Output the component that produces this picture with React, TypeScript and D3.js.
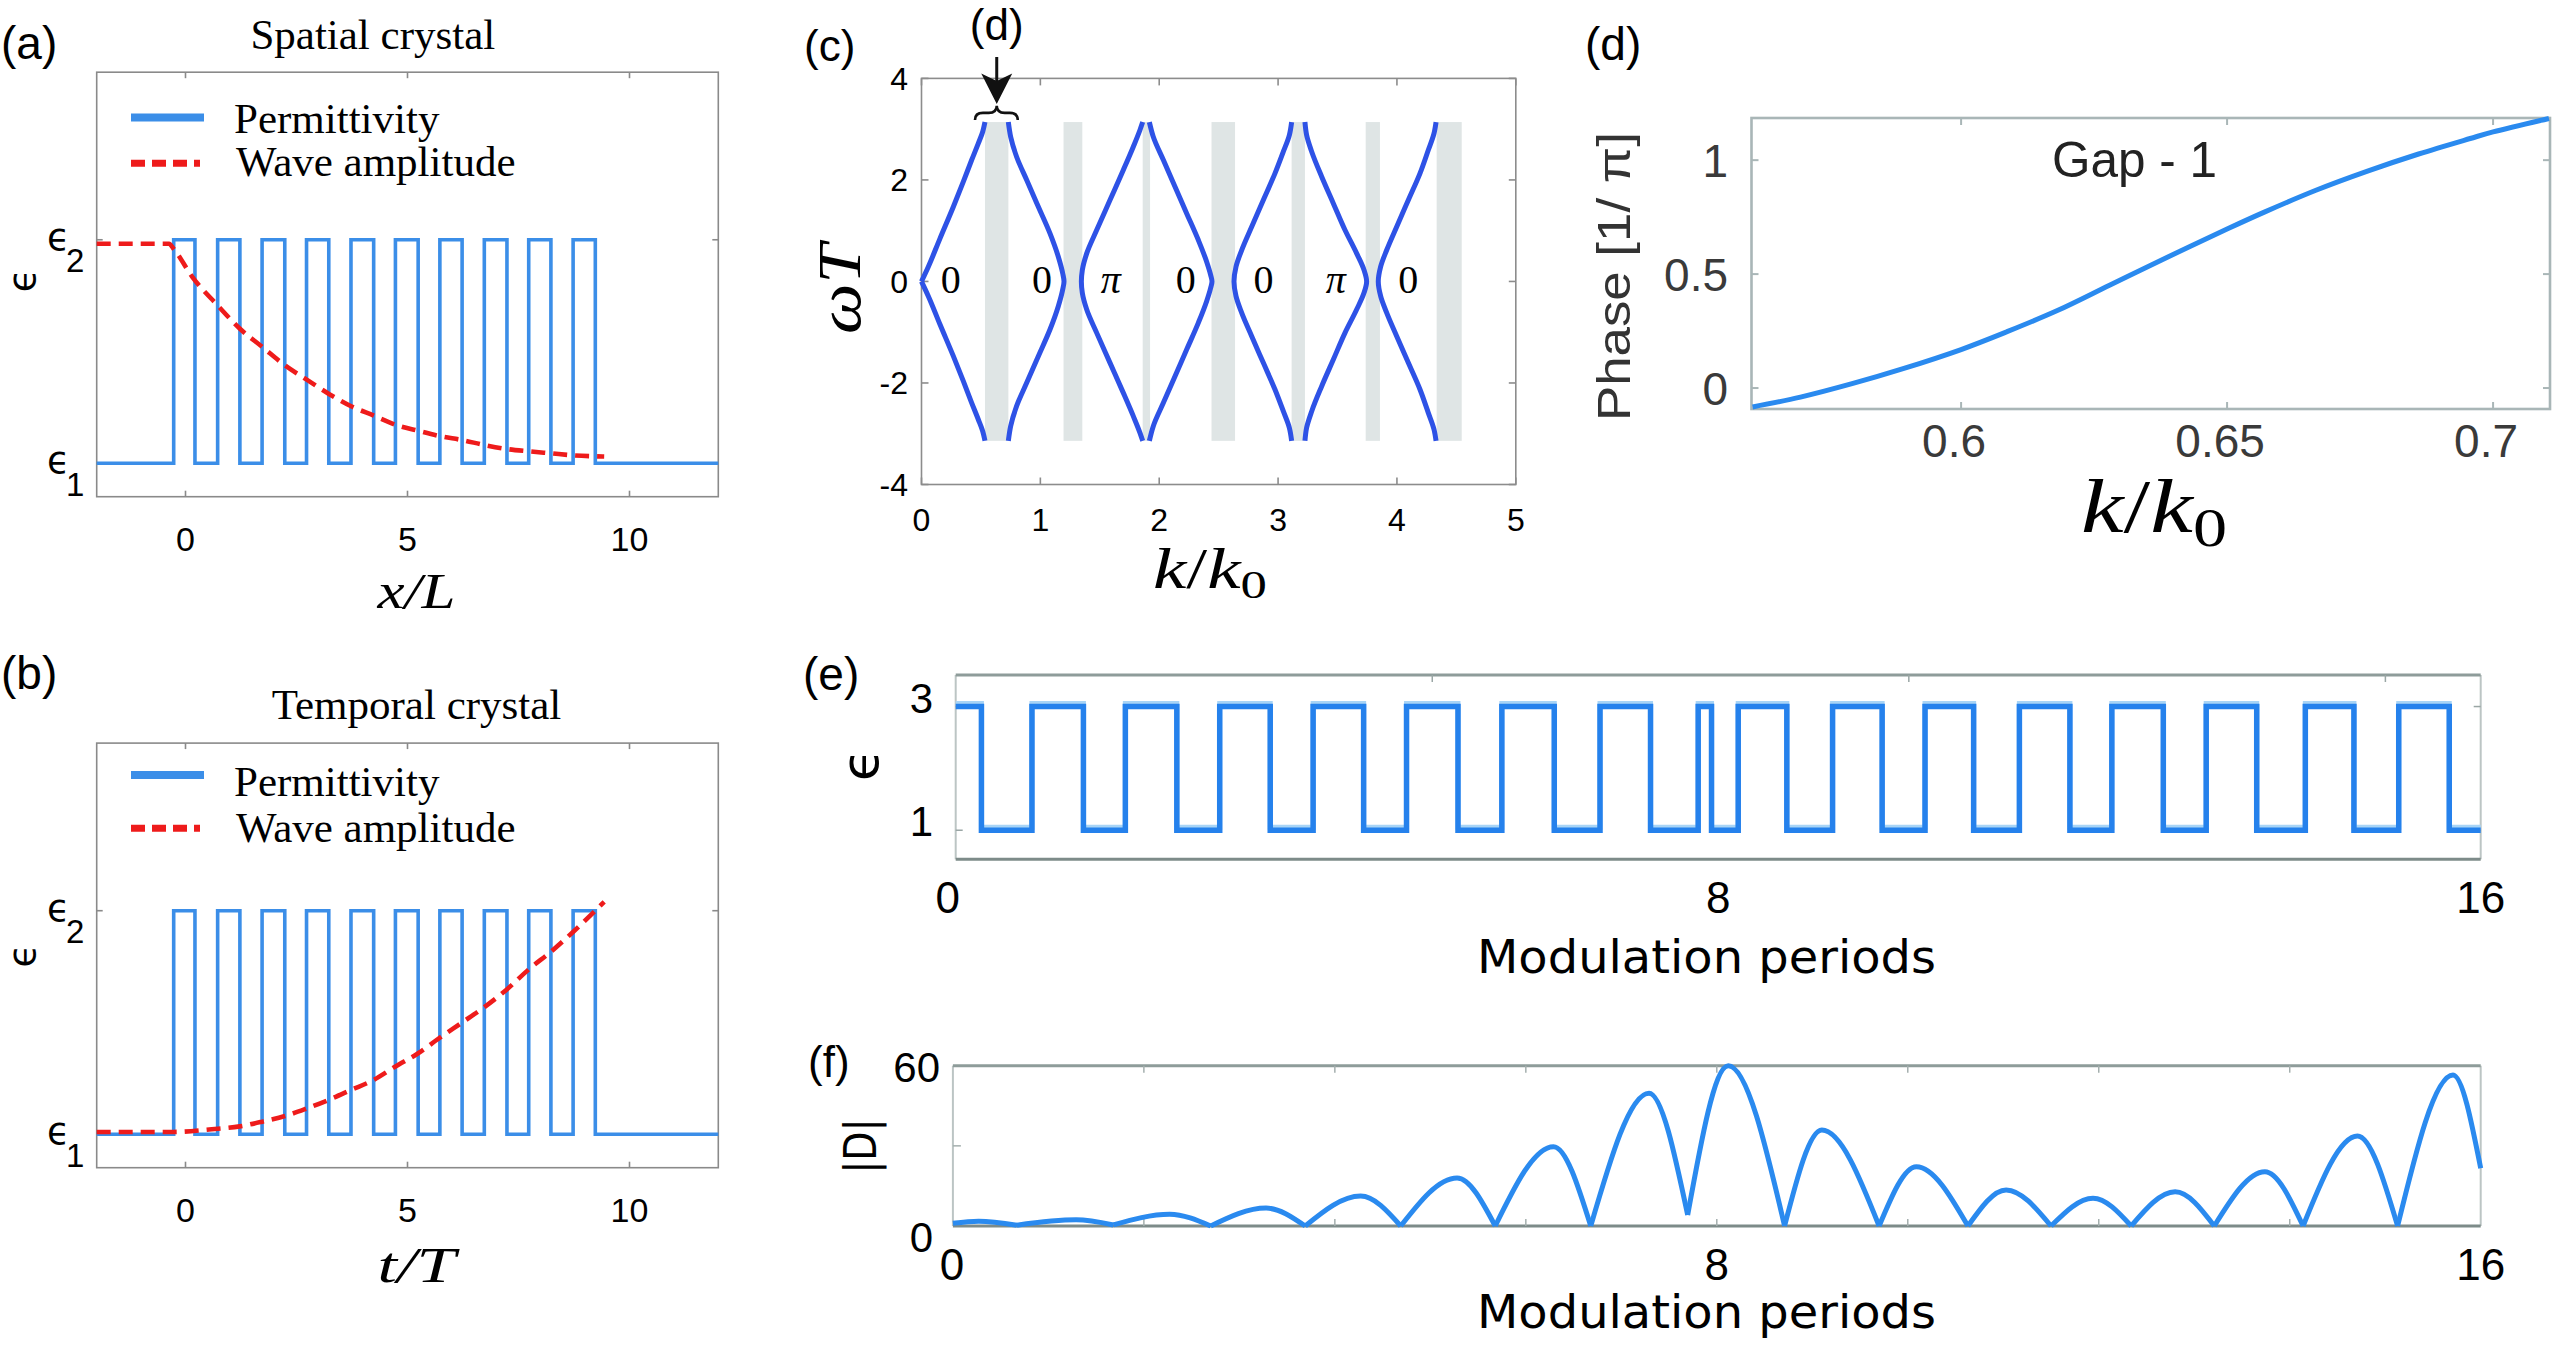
import React from "react";
import * as d3 from "d3";

const W = 2557;
const H = 1345;

// ---------- (a) & (b) ----------
const abXDomain = [-2, 12];
const abYDomain = [0.85, 2.75];
const abXTicks = [0, 5, 10];
const abEpsLevels = [1, 2];
const abEpsNames = ["1", "2"];
const abEdges = [-0.266, 0.213, 0.724, 1.225, 1.725, 2.236, 2.726, 3.227, 3.727, 4.238, 4.728, 5.24, 5.729, 6.23, 6.73, 7.24, 7.73, 8.23, 8.73, 9.23];
const abLevels = [2, 1, 2, 1, 2, 1, 2, 1, 2, 1, 2, 1, 2, 1, 2, 1, 2, 1, 2, 1];
const aWaveX = [-2, -0.37, -0.27, 0.16, 0.72, 1.22, 1.73, 2.24, 2.73, 3.23, 3.73, 4.24, 4.73, 5.24, 5.73, 6.24, 6.74, 7.25, 7.74, 8.24, 8.74, 9.43];
const aWaveY = [1.982, 1.982, 1.96, 1.832, 1.707, 1.603, 1.52, 1.438, 1.374, 1.31, 1.255, 1.213, 1.172, 1.145, 1.121, 1.103, 1.081, 1.063, 1.053, 1.044, 1.035, 1.03];
const bWaveX = [-2, -0.27, 0.59, 1.22, 1.73, 2.24, 2.73, 3.23, 3.73, 4.24, 4.73, 5.24, 5.73, 6.24, 6.74, 7.25, 7.74, 8.24, 8.74, 9.43];
const bWaveY = [1.01, 1.01, 1.022, 1.035, 1.056, 1.081, 1.115, 1.154, 1.198, 1.243, 1.303, 1.362, 1.432, 1.501, 1.57, 1.65, 1.739, 1.818, 1.907, 2.04];

// ---------- (c) ----------
const cXTicks = [0, 1, 2, 3, 4, 5];
const cYTicks = [-4, -2, 0, 2, 4];
const cGapStart = [0.534, 1.195, 1.861, 2.44, 3.114, 3.737, 4.334];
const cGapEnd = [0.731, 1.353, 1.923, 2.638, 3.226, 3.857, 4.545];
const cBandHalf = 3.14;
const cBranchK = [
  [0.0, 0.0575, 0.156, 0.268, 0.352, 0.422, 0.478, 0.515, 0.534],
  [1.199, 1.188, 1.151, 1.081, 0.983, 0.885, 0.8, 0.75, 0.7306],
  [1.345, 1.353, 1.39, 1.474, 1.586, 1.698, 1.782, 1.838, 1.861],
  [2.444, 2.433, 2.399, 2.329, 2.231, 2.133, 2.035, 1.95, 1.917],
  [2.629, 2.646, 2.694, 2.778, 2.876, 2.974, 3.044, 3.095, 3.114],
  [3.745, 3.723, 3.661, 3.563, 3.465, 3.367, 3.283, 3.24, 3.226],
  [3.843, 3.863, 3.914, 3.998, 4.096, 4.194, 4.264, 4.312, 4.329],
];
const cBranchW = [
  [0, 0.29, 0.849, 1.472, 1.965, 2.392, 2.72, 2.95, 3.14],
  [0, 0.159, 0.487, 0.947, 1.472, 1.998, 2.457, 2.851, 3.14],
  [0, 0.225, 0.553, 1.013, 1.604, 2.195, 2.654, 2.983, 3.14],
  [0, 0.125, 0.389, 0.816, 1.341, 1.866, 2.392, 2.851, 3.14],
  [0, 0.29, 0.619, 1.078, 1.604, 2.129, 2.556, 2.884, 3.14],
  [0, 0.225, 0.553, 1.013, 1.538, 2.063, 2.556, 2.884, 3.14],
  [0, 0.29, 0.619, 1.078, 1.604, 2.129, 2.589, 2.917, 3.14],
];
const cGapLabels = ["0", "0", "\u03C0", "0", "0", "\u03C0", "0"];
const cGapLabelK = [0.247, 1.013, 1.593, 2.224, 2.877, 3.486, 4.096];

// ---------- (d) ----------
const dXDomain = [0.5606, 0.7107];
const dYDomain = [-0.092, 1.185];
const dXTicks = [0.6, 0.65, 0.7];
const dXTickLabels = ["0.6", "0.65", "0.7"];
const dYTicks = [0, 0.5, 1];
const dYTickLabels = ["0", "0.5", "1"];
const dK = [0.5608, 0.5698, 0.5795, 0.5891, 0.6, 0.6085, 0.6182, 0.6279, 0.6376, 0.6502, 0.657, 0.6667, 0.6764, 0.686, 0.6957, 0.7, 0.7105];
const dPhase = [-0.083, -0.04, 0.019, 0.085, 0.169, 0.246, 0.341, 0.451, 0.561, 0.7, 0.772, 0.868, 0.952, 1.027, 1.095, 1.124, 1.183];

// ---------- (e) ----------
const eXTicks = [0, 8, 16];
const eTopTicks = [5, 10, 15];
const eYTicks = [1, 3];
const eT = [0, 0.27, 0.8, 1.34, 1.78, 2.32, 2.77, 3.3, 3.75, 4.28, 4.73, 5.27, 5.73, 6.28, 6.76, 7.29, 7.79, 7.93, 8.21, 8.72, 9.2, 9.72, 10.17, 10.68, 11.16, 11.69, 12.13, 12.67, 13.12, 13.65, 14.16, 14.67, 15.14, 15.67, 16];
const eLevel = [3, 1, 3, 1, 3, 1, 3, 1, 3, 1, 3, 1, 3, 1, 3, 1, 3, 1, 3, 1, 3, 1, 3, 1, 3, 1, 3, 1, 3, 1, 3, 1, 3, 1, 1];

// ---------- (f) ----------
const fXTicks = [0, 8, 16];
const fMinorTicks = [2, 4, 6, 8, 10, 12, 14];
const fYTicks = [0, 60];
const fExtT = [0, 0.27, 0.67, 1.29, 1.68, 2.27, 2.7, 3.28, 3.69, 4.27, 4.69, 5.28, 5.68, 6.29, 6.68, 7.29, 7.695, 8.12, 8.71, 9.1, 9.7, 10.09, 10.63, 11.03, 11.5, 11.94, 12.34, 12.8, 13.21, 13.74, 14.14, 14.71, 15.13, 15.71, 16];
const fExtV = [1.0, 1.8, 0.3, 2.3, 0.4, 4.4, 0, 6.7, 0, 11.2, 0, 18, 0, 29.7, 0, 49.7, 4.1, 60, 0, 35.9, 0, 22.2, 0, 13.5, 0, 10.4, 0, 12.8, 0, 20.3, 0, 33.7, 0, 56.5, 21.6];

const SERIF = "'Liberation Serif', 'Times New Roman', serif";
const SANS = "'Liberation Sans', Arial, sans-serif";
const DJ = "'DejaVu Sans', sans-serif";
const BLUE_AB = "#3b8ee8";
const RED = "#ee1b1b";
const BLUE_C = "#2e52e6";
const BLUE_F = "#2a8aef";

type Pt = [number, number];

function PanelAB(props: any) {
  const c = props.cfg;
  const x = d3.scaleLinear().domain(abXDomain).range([c.x0, c.x1]);
  const y = d3.scaleLinear().domain(abYDomain).range([c.y1, c.y0]);
  const sqPts: Pt[] = [[abXDomain[0], 1]];
  abEdges.forEach((e, i) => sqPts.push([e, abLevels[i]]));
  sqPts.push([abXDomain[1], 1]);
  const line = d3.line<Pt>().x((d) => x(d[0])).y((d) => y(d[1]));
  const sq = line.curve(d3.curveStepAfter)(sqPts) || "";
  const wPts: Pt[] = props.waveX.map((v: number, i: number) => [v, props.waveY[i]] as Pt);
  const wave = d3.line<Pt>().x((d) => x(d[0])).y((d) => y(d[1])).curve(d3.curveMonotoneX)(wPts) || "";
  const tl = 6;
  return (
    <g>
      <text x={1} y={c.tagY} fontFamily={SANS} fontSize={46}>{c.tag}</text>
      <text x={c.titleX} y={c.titleY} fontFamily={SERIF} fontSize={43} textAnchor="middle">{c.title}</text>
      <rect x={c.x0} y={c.y0} width={c.x1 - c.x0} height={c.y1 - c.y0} fill="none" stroke="#8a8a8a" strokeWidth={1.6} />
      {abXTicks.map((t) => (
        <g key={"t" + t}>
          <line x1={x(t)} x2={x(t)} y1={c.y0} y2={c.y0 + tl} stroke="#8a8a8a" strokeWidth={1.6} />
          <line x1={x(t)} x2={x(t)} y1={c.y1} y2={c.y1 - tl} stroke="#8a8a8a" strokeWidth={1.6} />
          <text x={x(t)} y={c.y1 + 54} fontFamily={SANS} fontSize={34} textAnchor="middle">{t}</text>
        </g>
      ))}
      {abEpsLevels.map((v, i) => (
        <g key={"e" + v}>
          <line x1={c.x0} x2={c.x0 + tl} y1={y(v)} y2={y(v)} stroke="#8a8a8a" strokeWidth={1.6} />
          <line x1={c.x1} x2={c.x1 - tl} y1={y(v)} y2={y(v)} stroke="#8a8a8a" strokeWidth={1.6} />
          <text x={47} y={y(v) + 10} fontFamily={DJ} fontSize={37}>{"\u03F5"}</text>
          <text x={66} y={y(v) + 32.5} fontFamily={SANS} fontSize={33}>{abEpsNames[i]}</text>
        </g>
      ))}
      <path d={sq} fill="none" stroke={BLUE_AB} strokeWidth={3.6} />
      <path d={wave} fill="none" stroke={RED} strokeWidth={4.6} strokeDasharray="14 8" />
      <line x1={131} x2={204} y1={c.legBlue} y2={c.legBlue} stroke={BLUE_AB} strokeWidth={8} />
      <text x={234} y={c.legT1} fontFamily={SERIF} fontSize={43}>Permittivity</text>
      <line x1={131} x2={200} y1={c.legRed} y2={c.legRed} stroke={RED} strokeWidth={7} strokeDasharray="14 7" />
      <text x={236} y={c.legT2} fontFamily={SERIF} fontSize={43}>Wave amplitude</text>
      <text transform={`translate(22,${c.ylabY}) rotate(-90)`} fontFamily={DJ} fontSize={38} textAnchor="middle" dominantBaseline="central">{"\u03F5"}</text>
      <text x={416.5} y={c.xlabY} fontFamily={SERIF} fontSize={50} fontStyle="italic" textAnchor="middle" textLength={78} lengthAdjust="spacingAndGlyphs">{c.xlab}</text>
    </g>
  );
}

function PanelC() {
  const x0 = 921.5, x1 = 1515.8, y0 = 78.4, y1 = 484.5;
  const x = d3.scaleLinear().domain([0, 5]).range([x0, x1]);
  const y = d3.scaleLinear().domain([-4, 4]).range([y1, y0]);
  const ln = d3.line<Pt>().x((d) => x(d[0])).y((d) => y(d[1])).curve(d3.curveMonotoneY);
  const paths: string[] = [];
  cBranchK.forEach((ks, b) => {
    const ws = cBranchW[b];
    const upper: Pt[] = ks.map((k, i) => [k, ws[i]] as Pt).reverse();
    const lower: Pt[] = ks.map((k, i) => [k, -ws[i]] as Pt);
    if (b === 0) {
      paths.push(ln(upper) || "");
      paths.push(ln(lower) || "");
    } else {
      paths.push(ln(upper.concat(lower.slice(1))) || "");
    }
  });
  const tl = 7;
  const kM = 0.633, kL = 0.45, kR = 0.81;
  const xm = x(kM), xl = x(kL), xr = x(kR);
  const yb = y(3.18), yt = y(3.46), ymid = (yb + yt) / 2, r = 8;
  const brace = `M${xl},${yb} Q${xl},${ymid} ${xl + r},${ymid} L${xm - r},${ymid} Q${xm},${ymid} ${xm},${yt} Q${xm},${ymid} ${xm + r},${ymid} L${xr - r},${ymid} Q${xr},${ymid} ${xr},${yb}`;
  return (
    <g>
      <text x={804} y={61} fontFamily={SANS} fontSize={44}>(c)</text>
      {cGapStart.map((s, i) => (
        <rect key={"g" + i} x={x(s)} y={y(cBandHalf)} width={x(cGapEnd[i]) - x(s)} height={y(-cBandHalf) - y(cBandHalf)} fill="#dfe5e5" />
      ))}
      <rect x={x0} y={y0} width={x1 - x0} height={y1 - y0} fill="none" stroke="#8c8c8c" strokeWidth={1.6} />
      {cXTicks.map((t) => (
        <g key={"x" + t}>
          <line x1={x(t)} x2={x(t)} y1={y0} y2={y0 + tl} stroke="#8c8c8c" strokeWidth={1.6} />
          <line x1={x(t)} x2={x(t)} y1={y1} y2={y1 - tl} stroke="#8c8c8c" strokeWidth={1.6} />
          <text x={x(t)} y={531} fontFamily={SANS} fontSize={32} textAnchor="middle">{t}</text>
        </g>
      ))}
      {cYTicks.map((t) => (
        <g key={"y" + t}>
          <line x1={x0} x2={x0 + tl} y1={y(t)} y2={y(t)} stroke="#8c8c8c" strokeWidth={1.6} />
          <line x1={x1} x2={x1 - tl} y1={y(t)} y2={y(t)} stroke="#8c8c8c" strokeWidth={1.6} />
          <text x={908} y={y(t) + 11.5} fontFamily={SANS} fontSize={32} textAnchor="end">{t}</text>
        </g>
      ))}
      {paths.map((p, i) => (
        <path key={"p" + i} d={p} fill="none" stroke={BLUE_C} strokeWidth={5} strokeLinecap="butt" />
      ))}
      {cGapLabels.map((s, i) => (
        <text key={"l" + i} x={x(cGapLabelK[i])} y={293} fontFamily={SERIF} fontSize={40} fontStyle={s === "0" ? "normal" : "italic"} textAnchor="middle">{s}</text>
      ))}
      <path d={brace} fill="none" stroke="#111" strokeWidth={2.6} />
      <line x1={xm} x2={xm} y1={57} y2={82} stroke="#111" strokeWidth={3} />
      <path d={`M${xm - 15.5},73.5 L${xm},104 L${xm + 15.5},73.5 L${xm},81 Z`} fill="#111" />
      <text x={xm} y={40} fontFamily={SANS} fontSize={44} textAnchor="middle">(d)</text>
      <text transform={`translate(860,289) rotate(-90)`} fontFamily={SERIF} fontSize={62} fontStyle="italic" textAnchor="middle" textLength={90} lengthAdjust="spacingAndGlyphs">{"\u03C9T"}</text>
      <text x={1210} y={588} fontFamily={SERIF} fontSize={57} textAnchor="middle" textLength={114} lengthAdjust="spacingAndGlyphs">
        <tspan fontStyle="italic">k</tspan>
        <tspan>/</tspan>
        <tspan fontStyle="italic">k</tspan>
        <tspan fontSize={40} dy={10}>0</tspan>
      </text>
    </g>
  );
}

function PanelD() {
  const x0 = 1751.5, x1 = 2550, y0 = 118, y1 = 409;
  const x = d3.scaleLinear().domain(dXDomain).range([x0, x1]);
  const y = d3.scaleLinear().domain(dYDomain).range([y1, y0]);
  const pts: Pt[] = dK.map((k, i) => [k, dPhase[i]] as Pt);
  const p = d3.line<Pt>().x((d) => x(d[0])).y((d) => y(d[1])).curve(d3.curveCatmullRom.alpha(0.5))(pts) || "";
  const tl = 7;
  const fc = "#a9b6b7";
  return (
    <g>
      <text x={1585} y={60} fontFamily={SANS} fontSize={46}>(d)</text>
      <rect x={x0} y={y0} width={x1 - x0} height={y1 - y0} fill="none" stroke={fc} strokeWidth={2.6} />
      {dXTicks.map((t, i) => (
        <g key={"x" + t}>
          <line x1={x(t)} x2={x(t)} y1={y0} y2={y0 + tl} stroke={fc} strokeWidth={2} />
          <line x1={x(t)} x2={x(t)} y1={y1} y2={y1 - tl} stroke={fc} strokeWidth={2} />
          <text x={x(t) - 7} y={457} fontFamily={SANS} fontSize={46} fill="#3a3a3a" textAnchor="middle">{dXTickLabels[i]}</text>
        </g>
      ))}
      {dYTicks.map((t, i) => (
        <g key={"y" + t}>
          <line x1={x0} x2={x0 + tl} y1={y(t)} y2={y(t)} stroke={fc} strokeWidth={2} />
          <line x1={x1} x2={x1 - tl} y1={y(t)} y2={y(t)} stroke={fc} strokeWidth={2} />
          <text x={1728} y={y(t) + 17} fontFamily={SANS} fontSize={46} fill="#3a3a3a" textAnchor="end">{dYTickLabels[i]}</text>
        </g>
      ))}
      <path d={p} fill="none" stroke={BLUE_F} strokeWidth={5} />
      <text x={2134.5} y={177} fontFamily={SANS} fontSize={50} fill="#222" textAnchor="middle" textLength={165} lengthAdjust="spacingAndGlyphs">Gap - 1</text>
      <text transform={`translate(1630,276.6) rotate(-90)`} fontFamily={SANS} fontSize={47} fill="#333" textAnchor="middle" textLength={289} lengthAdjust="spacingAndGlyphs">Phase [1/ {"\u03C0"}]</text>
      <text x={2154} y={532} fontFamily={SERIF} fontSize={76} textAnchor="middle" textLength={146} lengthAdjust="spacingAndGlyphs">
        <tspan fontStyle="italic">k</tspan>
        <tspan>/</tspan>
        <tspan fontStyle="italic">k</tspan>
        <tspan fontSize={54} dy={14}>0</tspan>
      </text>
    </g>
  );
}

function FrameEF(props: any) {
  const { x0, x1, y0, y1 } = props;
  return (
    <g>
      <line x1={x0} x2={x0} y1={y0} y2={y1} stroke="#bcc5c4" strokeWidth={2} />
      <line x1={x1} x2={x1} y1={y0} y2={y1} stroke="#bcc5c4" strokeWidth={2} />
      <line x1={x0} x2={x1} y1={y0} y2={y0} stroke="#8e9c9a" strokeWidth={3} />
      <line x1={x0} x2={x1} y1={y1} y2={y1} stroke="#7d8b89" strokeWidth={3} />
    </g>
  );
}

function PanelE() {
  const x0 = 955.7, x1 = 2480.7, y0 = 675, y1 = 859.3;
  const x = d3.scaleLinear().domain([0, 16]).range([x0, x1]);
  const y = d3.scaleLinear().domain([0.53, 3.51]).range([y1, y0]);
  const pts: Pt[] = eT.map((t, i) => [t, eLevel[i]] as Pt);
  const p = d3.line<Pt>().x((d) => x(d[0])).y((d) => y(d[1])).curve(d3.curveStepAfter)(pts) || "";
  return (
    <g>
      <text x={803} y={690} fontFamily={SANS} fontSize={46}>(e)</text>
      <FrameEF x0={x0} x1={x1} y0={y0} y1={y1} />
      {eTopTicks.map((t) => (
        <line key={"tt" + t} x1={x(t)} x2={x(t)} y1={y0} y2={y0 + 7} stroke="#9aa6a5" strokeWidth={1.5} />
      ))}
      {eYTicks.map((t) => (
        <g key={"y" + t}>
          <line x1={x0} x2={x0 + 7} y1={y(t)} y2={y(t)} stroke="#9aa6a5" strokeWidth={1.5} />
          <line x1={x1} x2={x1 - 7} y1={y(t)} y2={y(t)} stroke="#9aa6a5" strokeWidth={1.5} />
          <text x={933} y={y(t) + 6} fontFamily={SANS} fontSize={42} textAnchor="end">{t}</text>
        </g>
      ))}
      {eXTicks.map((t) => (
        <text key={"x" + t} x={x(t) - (t === 0 ? 8 : 0)} y={913} fontFamily={SANS} fontSize={44} textAnchor="middle">{t}</text>
      ))}
      <path d={p} fill="none" stroke="#a8d4f6" strokeWidth={5} transform="translate(0,-3)" />
      <path d={p} fill="none" stroke="#2581ec" strokeWidth={5.5} />
      <text transform={`translate(878,765) rotate(-90)`} fontFamily={DJ} fontSize={52} textAnchor="middle">{"\u03F5"}</text>
      <text x={1706.5} y={973} fontFamily={DJ} fontSize={46} textAnchor="middle" textLength={459} lengthAdjust="spacingAndGlyphs">Modulation periods</text>
    </g>
  );
}

function PanelF() {
  const x0 = 952.9, x1 = 2480.7, y0 = 1065.7, y1 = 1226;
  const x = d3.scaleLinear().domain([0, 16]).range([x0, x1]);
  const y = d3.scaleLinear().domain([0, 60]).range([y1, y0]);
  const ln = d3.line<Pt>().x((d) => x(d[0])).y((d) => y(d[1])).curve(d3.curveMonotoneX);
  const arches: string[] = [];
  for (let i = 0; i + 2 < fExtT.length; i += 2) {
    const seg: Pt[] = [0, 1, 2].map((j) => [fExtT[i + j], fExtV[i + j]] as Pt);
    arches.push(ln(seg) || "");
  }
  return (
    <g>
      <text x={808} y={1077} fontFamily={SANS} fontSize={44}>(f)</text>
      <FrameEF x0={x0} x1={x1} y0={y0} y1={y1} />
      {fMinorTicks.map((t) => (
        <g key={"m" + t}>
          <line x1={x(t)} x2={x(t)} y1={y0} y2={y0 + 7} stroke="#a4afae" strokeWidth={1.5} />
          <line x1={x(t)} x2={x(t)} y1={y1} y2={y1 - 7} stroke="#a4afae" strokeWidth={1.5} />
        </g>
      ))}
      <line x1={x0} x2={x0 + 8} y1={y(30)} y2={y(30)} stroke="#a4afae" strokeWidth={1.5} />
      {fYTicks.map((t) => (
        <text key={"y" + t} x={t === 0 ? 933 : 940} y={t === 0 ? 1252 : 1082} fontFamily={SANS} fontSize={42} textAnchor="end">{t}</text>
      ))}
      {fXTicks.map((t) => (
        <text key={"x" + t} x={x(t) - (t === 0 ? 1 : 0)} y={1280} fontFamily={SANS} fontSize={44} textAnchor="middle">{t}</text>
      ))}
      {arches.map((a, i) => (
        <path key={"a" + i} d={a} fill="none" stroke={BLUE_F} strokeWidth={5} strokeLinejoin="round" />
      ))}
      <text transform={`translate(876,1146) rotate(-90)`} fontFamily={DJ} fontSize={44} textAnchor="middle" textLength={55} lengthAdjust="spacingAndGlyphs">|D|</text>
      <text x={1706.5} y={1328} fontFamily={DJ} fontSize={46} textAnchor="middle" textLength={459} lengthAdjust="spacingAndGlyphs">Modulation periods</text>
    </g>
  );
}

const A_CFG = {
  x0: 96.7, x1: 718.3, y0: 72.2, y1: 496.7,
  tag: "(a)", tagY: 59,
  title: "Spatial crystal", titleX: 372.8, titleY: 49,
  legBlue: 117.6, legT1: 132.7, legRed: 163.3, legT2: 176,
  ylabY: 280.6, xlabY: 608, xlab: "x/L",
};
const B_CFG = {
  x0: 96.7, x1: 718.3, y0: 743.1, y1: 1167.7,
  tag: "(b)", tagY: 689,
  title: "Temporal crystal", titleX: 416.5, titleY: 718.7,
  legBlue: 775, legT1: 796.3, legRed: 828.2, legT2: 841.5,
  ylabY: 955.8, xlabY: 1281.6, xlab: "t/T",
};

export default function App() {
  return (
    <svg
      width={W}
      height={H}
      viewBox={`0 0 ${W} ${H}`}
      xmlns="http://www.w3.org/2000/svg"
      style={{ position: "absolute", left: 0, top: 0, display: "block" }}
    >
      <rect x={0} y={0} width={W} height={H} fill="#ffffff" />
      <PanelAB cfg={A_CFG} waveX={aWaveX} waveY={aWaveY} />
      <PanelAB cfg={B_CFG} waveX={bWaveX} waveY={bWaveY} />
      <PanelC />
      <PanelD />
      <PanelE />
      <PanelF />
    </svg>
  );
}
